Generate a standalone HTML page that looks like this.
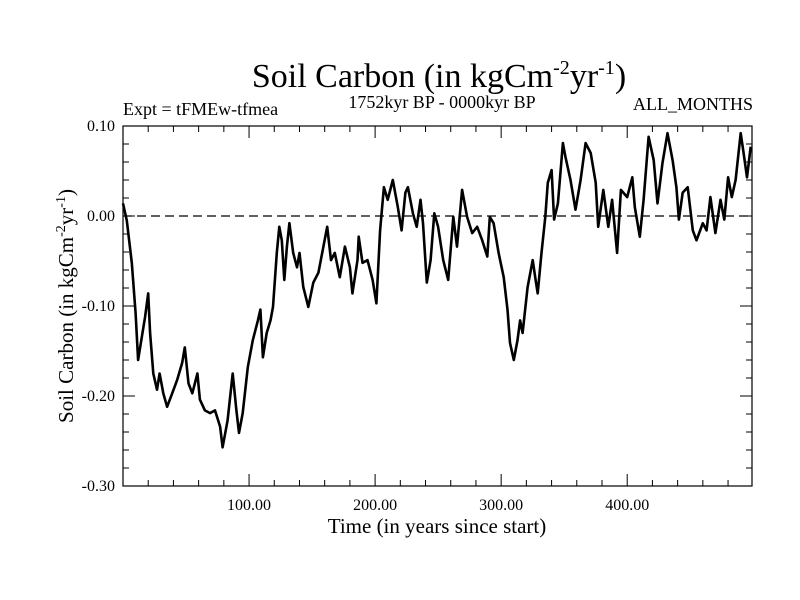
<!DOCTYPE html>
<html><head><meta charset="utf-8">
<style>
html,body{margin:0;padding:0;background:#fff;}
svg{display:block;font-family:"Liberation Serif",serif;}
</style></head>
<body>
<svg id="chart" width="800" height="600" viewBox="0 0 800 600" xmlns="http://www.w3.org/2000/svg">
<rect width="800" height="600" fill="#fff"/>
<text x="439" y="87" font-size="34" text-anchor="middle">Soil Carbon (in kgCm<tspan dy="-13" font-size="20">-2</tspan><tspan dy="13">yr</tspan><tspan dy="-13" font-size="20">-1</tspan><tspan dy="13">)</tspan></text>
<text x="123" y="115" font-size="18">Expt = tFMEw-tfmea</text>
<text x="442" y="108" font-size="18" text-anchor="middle">1752kyr BP - 0000kyr BP</text>
<text x="753" y="110" font-size="18" text-anchor="end">ALL_MONTHS</text>
<text x="437" y="533" font-size="21" text-anchor="middle">Time (in years since start)</text>
<text transform="translate(73,306) rotate(-90)" font-size="21" text-anchor="middle">Soil Carbon (in kgCm<tspan dy="-8" font-size="14">-2</tspan><tspan dy="8">yr</tspan><tspan dy="-8" font-size="14">-1</tspan><tspan dy="8">)</tspan></text>
<g id="axes"></g>
<g id="series"></g>
</svg>
<script>
const xTickValues=[100,200,300,400];
const xTickLabels=["100.00","200.00","300.00","400.00"];
const yTickValues=[0.10,0.00,-0.10,-0.20,-0.30];
const yTickLabels=["0.10","0.00","-0.10","-0.20","-0.30"];
const times=[0,3,7,10,12,15,17.5,20,21.5,24,27,29,32,35,39,43,47,49,52,55,59,61,65,69,73,77,79,83,87,90,92,95,99,103,107,109,111,114,117,119,122,124,126,128,130,132,135,138,140,143,147,151,155,159,162,165,168,172,176,180,182,186,187,190,194,198,201,204,207,210,214,218,221,224,226,230,233,236,238,241,244,247,250,254,258,261,262,265,269,273,277,281,285,289,291,294,298,302,305,307,310,313,315,317,321,325,327,329,332,335,337,340,342,345,349,351,355,359,363,367,371,375,377,381,385,388,392,395,400,404,406,410,413,417,421,424,428,432,436,439,441,444,448,452,455,460,463,466,470,474,477,480,483,486,490,492,495,498];
const values=[0.014,-0.005,-0.052,-0.108,-0.16,-0.134,-0.112,-0.086,-0.13,-0.175,-0.193,-0.175,-0.197,-0.212,-0.197,-0.182,-0.163,-0.146,-0.186,-0.197,-0.175,-0.204,-0.216,-0.219,-0.216,-0.234,-0.257,-0.227,-0.175,-0.216,-0.241,-0.219,-0.168,-0.138,-0.116,-0.104,-0.157,-0.13,-0.116,-0.101,-0.041,-0.012,-0.027,-0.071,-0.034,-0.008,-0.041,-0.057,-0.041,-0.079,-0.101,-0.074,-0.063,-0.034,-0.012,-0.049,-0.041,-0.068,-0.034,-0.057,-0.086,-0.049,-0.023,-0.052,-0.049,-0.071,-0.097,-0.016,0.032,0.018,0.04,0.01,-0.016,0.026,0.032,0.003,-0.012,0.018,-0.008,-0.074,-0.049,0.003,-0.012,-0.049,-0.071,-0.019,-0.001,-0.034,0.029,-0.001,-0.019,-0.012,-0.027,-0.045,-0.001,-0.008,-0.041,-0.068,-0.104,-0.141,-0.16,-0.138,-0.116,-0.13,-0.079,-0.049,-0.068,-0.086,-0.041,-0.001,0.037,0.051,-0.004,0.014,0.081,0.066,0.04,0.007,0.04,0.081,0.07,0.037,-0.012,0.029,-0.012,0.018,-0.041,0.029,0.021,0.043,0.01,-0.023,0.018,0.088,0.062,0.014,0.059,0.092,0.062,0.032,-0.004,0.026,0.032,-0.016,-0.027,-0.008,-0.016,0.021,-0.019,0.018,-0.004,0.043,0.021,0.04,0.092,0.073,0.043,0.077];

const L=123,R=752,T=126,B=486;
const X0=0,X1=499,Y0=-0.30,Y1=0.10;
const sx=t=>L+(t-X0)/(X1-X0)*(R-L);
const sy=v=>B-(v-Y0)/(Y1-Y0)*(B-T);
const NS="http://www.w3.org/2000/svg";
const axes=document.getElementById('axes');
function mk(tag,attrs,parent){const e=document.createElementNS(NS,tag);for(const k in attrs)e.setAttribute(k,attrs[k]);parent.appendChild(e);return e;}

const frame=mk('rect',{x:L,y:T,width:R-L,height:B-T,fill:'none',stroke:'#000','stroke-width':1.2},axes);



const zl=mk('line',{x1:L,x2:R,y1:sy(0),y2:sy(0),stroke:'#000','stroke-width':1.2,'stroke-dasharray':'9,5'},axes);



for(let t=20;t<X1;t+=20){
  const major=t%100===0, len=major?12:6;
  const a=mk('line',{x1:sx(t),x2:sx(t),y1:B,y2:B-len,stroke:'#000','stroke-width':1},axes);
  
  
  const b=mk('line',{x1:sx(t),x2:sx(t),y1:T,y2:T+len,stroke:'#000','stroke-width':1},axes);
  
  
}
for(let i=0;i<=20;i++){
  const v=Y0+i*0.02, major=i%5===0, len=major?12:6;
  const a=mk('line',{x1:L,x2:L+len,y1:sy(v),y2:sy(v),stroke:'#000','stroke-width':1},axes);
  
  
  const b=mk('line',{x1:R,x2:R-len,y1:sy(v),y2:sy(v),stroke:'#000','stroke-width':1},axes);
  
  
}
xTickValues.forEach((t,i)=>{
  const e=mk('text',{x:sx(t),y:B+24,'font-size':16,'text-anchor':'middle'},axes);
  e.textContent=xTickLabels[i];
  
  
});
yTickValues.forEach((v,i)=>{
  const e=mk('text',{x:L-8,y:sy(v)+5,'font-size':16,'text-anchor':'end'},axes);
  e.textContent=yTickLabels[i];
  
  
});
const d=times.map((t,i)=>(i?'L':'M')+sx(t).toFixed(1)+','+sy(values[i]).toFixed(1)).join(' ');
const p=mk('path',{d:d,fill:'none',stroke:'#000','stroke-width':2.6,'stroke-linejoin':'round'},document.getElementById('series'));


</script>
</body></html>
